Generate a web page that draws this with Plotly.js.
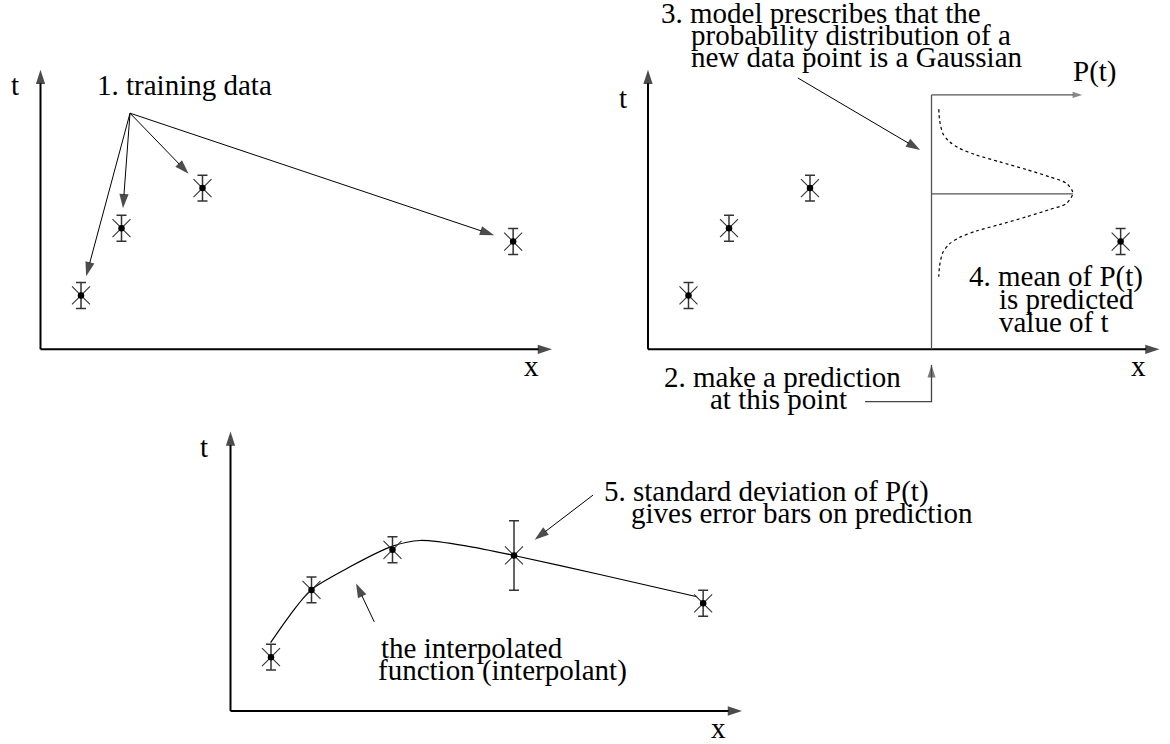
<!DOCTYPE html>
<html><head><meta charset="utf-8">
<script src="https://cdn.plot.ly/plotly-3.0.1.min.js"></script>
<style>html,body{margin:0;padding:0;background:#fff}#chart{width:1170px;height:744px}</style>
</head><body><div id="chart"></div>
<script>
// ---- data (identical training set in every panel) ----
const trainX   = [1.0, 2.0, 4.0, 11.67];
const trainT   = [1.33, 2.99, 3.98, 2.66];
const trainErr = [0.32, 0.32, 0.32, 0.32];
// prediction point
const predX   = [7.0];
const predT   = [3.84];
const predErr = [0.86];
// predictive distribution P(t)
const gaussP = [0.18, 0.20, 0.28, 0.44, 0.69, 1.10, 1.68, 2.34, 2.91, 3.33, 3.49, 3.33, 2.91, 2.34, 1.68, 1.10, 0.69, 0.44, 0.28, 0.20, 0.18];
const gaussT = [5.93, 5.66, 5.33, 5.13, 4.96, 4.80, 4.63, 4.44, 4.26, 4.10, 3.86, 3.60, 3.45, 3.27, 3.08, 2.92, 2.76, 2.60, 2.39, 2.06, 1.79];
// interpolant curve
const interpX = [0.99, 1.47, 1.99, 2.95, 4.00, 4.68, 5.91, 7.00, 9.12, 11.52];
const interpT = [1.69, 2.37, 2.99, 3.56, 4.07, 4.21, 4.06, 3.84, 3.37, 2.82];
// labels
const panelAxisLabels = ['t', 'x'];
const label1 = '1. training data';
const label2 = ['2. make a prediction', 'at this point'];
const label3 = ['3. model prescribes that the', 'probability distribution of a', 'new data point is a Gaussian'];
const label4 = ['4. mean of P(t)', 'is predicted', 'value of t'];
const label5 = ['5. standard deviation of P(t)', 'gives error bars on prediction'];
const label6 = ['the interpolated', 'function (interpolant)'];
const labelP = 'P(t)';

// ---- geometry ----
const W = 1170, H = 744, U = 40.5;
const FONT = "'Liberation Serif', 'Times New Roman', serif";
const FS = 29;
const panels = [
  {o: [40.5, 349.3], xr: [-0.9, 13.0], yr: [-1.25, 8.55]},
  {o: [648, 349.3],  xr: [-0.9, 12.85], yr: [-1.6, 8.55]},
  {o: [230.5, 711],  xr: [-1.0, 16.5], yr: [-0.8, 7.8]}
];
const AX_LEN_X = 12.63, AX_LEN_T = 6.9;

const layout = {
  width: W, height: H, autosize: false,
  margin: {l: 0, r: 0, t: 0, b: 0},
  paper_bgcolor: '#fff', plot_bgcolor: 'rgba(0,0,0,0)',
  showlegend: false, annotations: []
};
panels.forEach((p, i) => {
  const s = i === 0 ? '' : String(i + 1);
  const xd = [(p.o[0] + p.xr[0] * U) / W, (p.o[0] + p.xr[1] * U) / W];
  const yd = [(H - (p.o[1] - p.yr[0] * U)) / H, (H - (p.o[1] - p.yr[1] * U)) / H];
  const common = {showgrid: false, zeroline: false, showticklabels: false, ticks: '', showline: false, fixedrange: true};
  layout['xaxis' + s] = Object.assign({domain: xd, range: p.xr, anchor: 'y' + s}, common);
  layout['yaxis' + s] = Object.assign({domain: yd, range: p.yr, anchor: 'x' + s}, common);
  p.xa = 'x' + s; p.ya = 'y' + s;
});

const traces = [];
function arrow(p, xs, ys, opt) {
  opt = opt || {};
  const n = xs.length;
  const sizes = xs.map((_, k) => k === n - 1 ? (opt.head || 15) : 0);
  traces.push({
    type: 'scatter', mode: 'lines+markers', xaxis: p.xa, yaxis: p.ya,
    x: xs, y: ys, hoverinfo: 'skip', cliponaxis: false,
    line: {color: opt.color || 'black', width: opt.width || 1},
    marker: {symbol: 'arrow', size: sizes, angleref: 'previous', color: opt.color || 'black', line: {width: 0}}
  });
}
function plainLine(p, xs, ys, opt) {
  traces.push({
    type: 'scatter', mode: 'lines', xaxis: p.xa, yaxis: p.ya, x: xs, y: ys,
    hoverinfo: 'skip', cliponaxis: false,
    line: Object.assign({color: 'black', width: 1}, opt)
  });
}
function points(p, xs, ts, errs) {
  traces.push({
    type: 'scatter', mode: 'markers', xaxis: p.xa, yaxis: p.ya, x: xs, y: ts, hoverinfo: 'skip',
    cliponaxis: false,
    marker: {symbol: 'x-thin', size: 18, color: '#333', line: {width: 1.1, color: '#333'}},
    error_y: {type: 'data', array: errs, visible: true, color: '#333', thickness: 1.5, width: 5}
  });
  traces.push({
    type: 'scatter', mode: 'markers', xaxis: p.xa, yaxis: p.ya, x: xs, y: ts, hoverinfo: 'skip',
    cliponaxis: false, marker: {symbol: 'circle', size: 6.5, color: 'black'}
  });
}
// tip of a callout arrow that stops `gap` px short of a target point
function shortTip(tx, tt, sx, st, gap) {
  const dx = sx - tx, dt = st - tt, d = Math.hypot(dx, dt) * U;
  return [tx + dx * gap / d, tt + dt * gap / d];
}
function txt(left, baseline, text, opt) {
  opt = opt || {};
  const size = opt.size || FS;
  layout.annotations.push({
    xref: 'paper', yref: 'paper', x: left / W, y: 1 - (baseline - 0.34 * size) / H,
    xanchor: opt.anchor || 'left', yanchor: 'middle', showarrow: false, text: text,
    font: {family: FONT, size: size, color: 'black'}, borderpad: 0
  });
}

// axes of every panel
panels.forEach(p => {
  arrow(p, [0, AX_LEN_X], [0, 0], {width: 2, head: 15});
  arrow(p, [0, 0], [0, AX_LEN_T], {width: 2, head: 15});
});
const [P1, P2, P3] = panels;

// ---- panel 1 ----
const tail1 = [2.21, 5.83];
trainX.forEach((x, i) => {
  const tip = shortTip(x, trainT[i], tail1[0], tail1[1], 20);
  arrow(P1, [tail1[0], tip[0]], [tail1[1], tip[1]], {width: 1, head: 15});
});
points(P1, trainX, trainT, trainErr);

// ---- panel 2 ----
const topT = 6.28;
plainLine(P2, [predX[0], predX[0]], [0, topT], {color: '#555', width: 1.3});
arrow(P2, [predX[0], predX[0] + 3.72], [topT, topT], {color: '#555', width: 1.3, head: 10});
plainLine(P2, [predX[0], predX[0] + Math.max(...gaussP)], [predT[0], predT[0]], {color: '#555', width: 1.3});
plainLine(P2, gaussP.map(v => predX[0] + v), gaussT, {color: 'black', width: 1.2, dash: 'dot', shape: 'spline', smoothing: 0.8});
points(P2, trainX, trainT, trainErr);
arrow(P2, [3.70, 6.72], [6.70, 4.92], {width: 1, head: 15});
arrow(P2, [5.36, predX[0], predX[0]], [-1.29, -1.29, -0.39], {color: '#444', width: 1.3, head: 13});

// ---- panel 3 ----
plainLine(P3, interpX, interpT, {color: 'black', width: 1.2, shape: 'spline', smoothing: 0.8});
points(P3, trainX, trainT, trainErr);
points(P3, predX, predT, predErr);
const tail5 = [8.95, 5.33];
const tip5 = shortTip(predX[0], predT[0], tail5[0], tail5[1], 26);
arrow(P3, [tail5[0], tip5[0]], [tail5[1], tip5[1]], {width: 1, head: 15});
arrow(P3, [3.55, 3.10], [2.20, 3.15], {width: 1, head: 15});

// ---- text ----
txt(10, 95, panelAxisLabels[0]);
txt(523, 376, panelAxisLabels[1]);
txt(96, 95, label1);
txt(618, 108.3, panelAxisLabels[0]);
txt(1130, 376, panelAxisLabels[1]);
txt(660, 23, label3[0]);
txt(690, 45, label3[1]);
txt(690, 67, label3[2]);
txt(1072, 81.7, labelP);
txt(968, 286.7, label4[0]);
txt(998, 309, label4[1]);
txt(998, 331.7, label4[2]);
txt(902, 386.7, label2[0], {anchor: 'right'});
txt(848, 408.5, label2[1], {anchor: 'right'});
txt(199, 456.7, panelAxisLabels[0]);
txt(710, 738, panelAxisLabels[1]);
txt(603, 501.7, label5[0]);
txt(630, 523.3, label5[1]);
txt(380, 658, label6[0]);
txt(376.7, 680, label6[1]);

Plotly.newPlot('chart', traces, layout, {staticPlot: true, displayModeBar: false});
</script>
</body></html>
